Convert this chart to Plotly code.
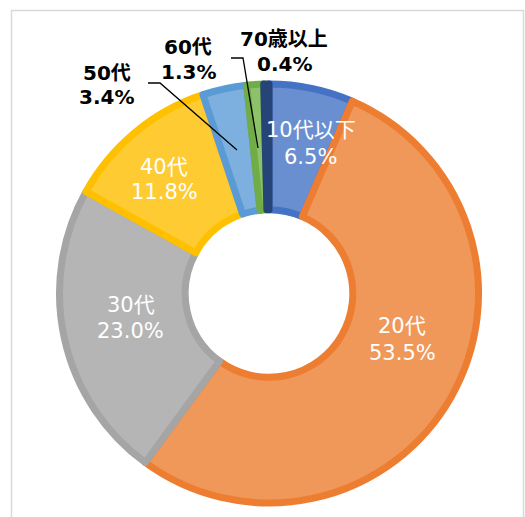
import plotly.graph_objects as go

# ---- data ----
categories = ["10代以下", "20代", "30代", "40代", "50代", "60代", "70歳以上"]
shares = [6.5, 53.5, 23.0, 11.8, 3.4, 1.3, 0.4]
pct_labels = ["6.5%", "53.5%", "23.0%", "11.8%", "3.4%", "1.3%", "0.4%"]

# ---- style ----
fill_colors = ["#6a8fd0", "#f0985a", "#b5b5b5", "#ffcb33", "#7eb0df", "#8dc26a", "#2b4a80"]
line_colors = ["#4472c4", "#ed7d31", "#a5a5a5", "#ffc000", "#5b9bd5", "#70ad47", "#264478"]

W, H = 525, 517
cx, cy, R = 269, 293.5, 209.5  # pixel centre / radius of the donut path

# label line centres in pixels (x, y of name line, y of percent line)
label_pos = [(310.5, 130, 156.5), (402, 325.5, 352.5), (130.5, 305, 331),
             (164, 167, 192), (106.5, 73, 97), (188, 47, 72), (284, 38.5, 64)]
inside = [True, True, True, True, False, False, False]

fig = go.Figure()
fig.add_trace(go.Pie(
    labels=categories,
    values=shares,
    sort=False,
    direction="clockwise",
    rotation=0,
    hole=0.40,
    textinfo="none",
    hoverinfo="label+percent",
    showlegend=False,
    marker=dict(colors=fill_colors, line=dict(color=line_colors, width=7)),
    domain=dict(x=[(cx - R) / W, (cx + R) / W],
                y=[(H - cy - R) / H, (H - cy + R) / H]),
))

FONT = "DejaVu Sans, Noto Sans CJK JP, sans-serif"
annotations = []
for cat, pct, (px, py1, py2), ins in zip(categories, pct_labels, label_pos, inside):
    for txt, py in ((cat, py1), (pct, py2)):
        annotations.append(dict(
            x=px / W, y=1 - py / H, xref="paper", yref="paper",
            text=txt if ins else f"<b>{txt}</b>",
            showarrow=False, xanchor="center", yanchor="middle",
            font=dict(family=FONT, size=21 if ins else 20,
                      color="#ffffff" if ins else "#000000"),
        ))

def P(x, y):
    return f"{x / W:.5f},{1 - y / H:.5f}"

shapes = [
    # chart frame
    dict(type="rect", xref="paper", yref="paper",
         x0=11.5 / W, x1=523.5 / W, y0=-0.05, y1=1 - 10.5 / H,
         line=dict(color="#d9d9d9", width=1.5), fillcolor="rgba(0,0,0,0)", layer="below"),
    # leader lines
    dict(type="path", xref="paper", yref="paper",
         path=f"M{P(148, 83)} L{P(160, 83)} L{P(237, 150)}",
         line=dict(color="#000000", width=1.3)),
    dict(type="path", xref="paper", yref="paper",
         path=f"M{P(231, 58)} L{P(243, 58)} L{P(258, 148)}",
         line=dict(color="#000000", width=1.3)),
]

fig.update_layout(
    width=W, height=H,
    margin=dict(l=0, r=0, t=0, b=0),
    paper_bgcolor="#ffffff", plot_bgcolor="#ffffff",
    annotations=annotations, shapes=shapes,
)

post = """
document.body.style.margin = '0';
document.body.style.overflow = 'hidden';
document.querySelectorAll('g.slice path.surface').forEach(function(p){
  p.style.strokeLinejoin = 'round';
});
"""
fig.write_html("out.html", post_script=post, config={"displayModeBar": False})
